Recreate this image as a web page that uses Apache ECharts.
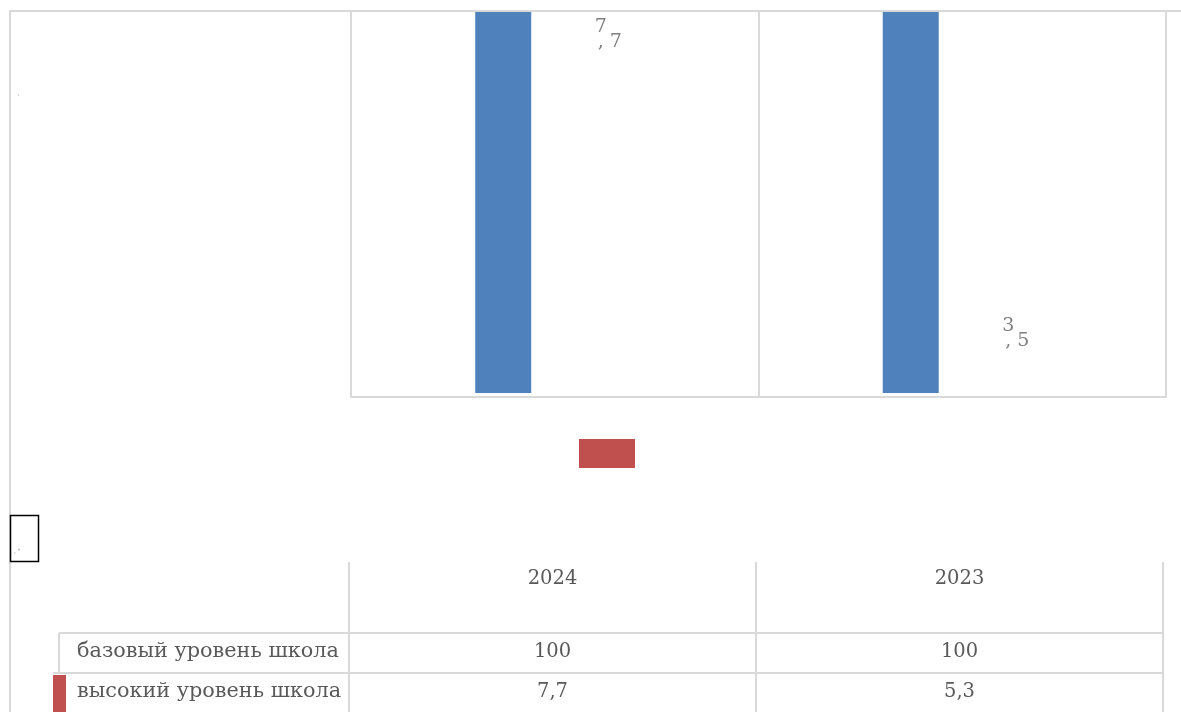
<!DOCTYPE html>
<html><head><meta charset="utf-8">
<script src="https://cdn.jsdelivr.net/npm/echarts@6/dist/echarts.min.js"></script>
<style>html,body{margin:0;padding:0;background:#fff}#c{width:1181px;height:712px}</style>
</head><body><div id="c"></div>
<script>
const categories = ['2024', '2023'];
const seriesNames = ['базовый уровень школа', 'высокий уровень школа'];
const baseValues = [100, 100];
const highValues = [7.7, 5.3];
const chartLabelValues = [7.7, 3.5];

const FONT = 'DejaVu Serif';
const TXT = '#595959';
const GRID = '#d9d9d9';
const BLUE = '#4F81BD';
const RED = '#C0504D';
const fmt = v => String(v).replace('.', ',');

const chart = echarts.init(document.getElementById('c'), null, {renderer: 'canvas'});

// data table built from arrays
const colLeft = 349, colW = 407;
const tableG = [];
const lineStyle = {stroke: GRID, lineWidth: 2};
for (let i = 0; i <= categories.length; i++) {
  const x = colLeft + i * colW;
  tableG.push({type: 'line', shape: {x1: x, y1: 562, x2: x, y2: 712}, style: lineStyle, silent: true});
}
tableG.push({type: 'line', shape: {x1: 59, y1: 633, x2: colLeft + categories.length * colW, y2: 633}, style: lineStyle});
tableG.push({type: 'line', shape: {x1: 53, y1: 673, x2: colLeft + categories.length * colW, y2: 673}, style: lineStyle});
tableG.push({type: 'line', shape: {x1: 59, y1: 633, x2: 59, y2: 673}, style: lineStyle});
tableG.push({type: 'rect', shape: {x: 53, y: 675, width: 13, height: 37}, style: {fill: RED}});
categories.forEach((c, i) => {
  tableG.push({type: 'text', x: colLeft + (i + 0.5) * colW, y: 579,
    style: {text: c, font: '19.5px "' + FONT + '"', fill: TXT, align: 'center', verticalAlign: 'middle'}});
});
const rowsY = [652, 692];
const rowVals = [baseValues, highValues];
seriesNames.forEach((n, r) => {
  tableG.push({type: 'text', x: 77, y: rowsY[r],
    style: {text: n, font: '20.8px "' + FONT + '"', fill: TXT, align: 'left', verticalAlign: 'middle'}});
  rowVals[r].forEach((v, i) => {
    tableG.push({type: 'text', x: colLeft + (i + 0.5) * colW, y: rowsY[r],
      style: {text: fmt(v), font: '19.5px "' + FONT + '"', fill: TXT, align: 'center', verticalAlign: 'middle'}});
  });
});

const graphics = [
  {type: 'line', shape: {x1: 9, y1: 11, x2: 1181, y2: 11}, style: lineStyle, z: 10},
  {type: 'line', shape: {x1: 10, y1: 11, x2: 10, y2: 712}, style: lineStyle},
  {type: 'text', x: 17, y: 95, style: {text: '`', font: '8px "' + FONT + '"', fill: '#999'}},
  {type: 'rect', shape: {x: 10.5, y: 515.5, width: 28, height: 46}, style: {fill: '#fff', stroke: '#000', lineWidth: 1.5}, z: 5},
  {type: 'text', x: 14, y: 548, style: {text: ', "', font: '6px "' + FONT + '"', fill: '#777'}, z: 6}
].concat(tableG);

chart.setOption({
  animation: false,
  textStyle: {fontFamily: FONT},
  grid: {left: 351, right: 15, top: 11, height: 386, containLabel: false},
  legend: {
    data: [{name: seriesNames[1], itemStyle: {color: RED, opacity: 1}}],
    left: 579, top: 439, itemWidth: 56, itemHeight: 29,
    icon: 'rect', formatter: () => '', padding: 0, selectedMode: false,
    itemStyle: {color: RED, opacity: 1}
  },
  xAxis: {
    type: 'category', data: categories,
    axisLine: {onZero: false, lineStyle: {color: GRID, width: 2}},
    axisTick: {show: false}, axisLabel: {show: false},
    splitLine: {show: true, lineStyle: {color: GRID, width: 2}}
  },
  yAxis: [
    {type: 'value', min: -1, max: 95, show: false, splitLine: {show: false}},
    {type: 'value', min: 2.88, max: 8.29, show: false, splitLine: {show: false}}
  ],
  series: [
    {name: seriesNames[0], type: 'bar', data: baseValues, barWidth: 56, barGap: '84%',
      itemStyle: {color: BLUE}, clip: true, yAxisIndex: 0},
    {name: seriesNames[1], type: 'bar', data: chartLabelValues, barWidth: 56, yAxisIndex: 1,
      itemStyle: {color: 'rgba(0,0,0,0)'},
      label: {show: true, position: 'top', distance: 4, color: '#7f7f7f', fontFamily: FONT,
        formatter: p => { const s = fmt(p.value).split(','); return '{a|' + s[0] + '}\n{b|, ' + s[1] + '}'; },
        rich: {a: {fontSize: 19, lineHeight: 15, padding: [0, 11, 0, 0], color: '#7f7f7f', fontFamily: FONT},
               b: {fontSize: 19, lineHeight: 15, padding: [0, 0, 0, 7], color: '#7f7f7f', fontFamily: FONT}}}}
  ],
  graphic: graphics
});
</script></body></html>
